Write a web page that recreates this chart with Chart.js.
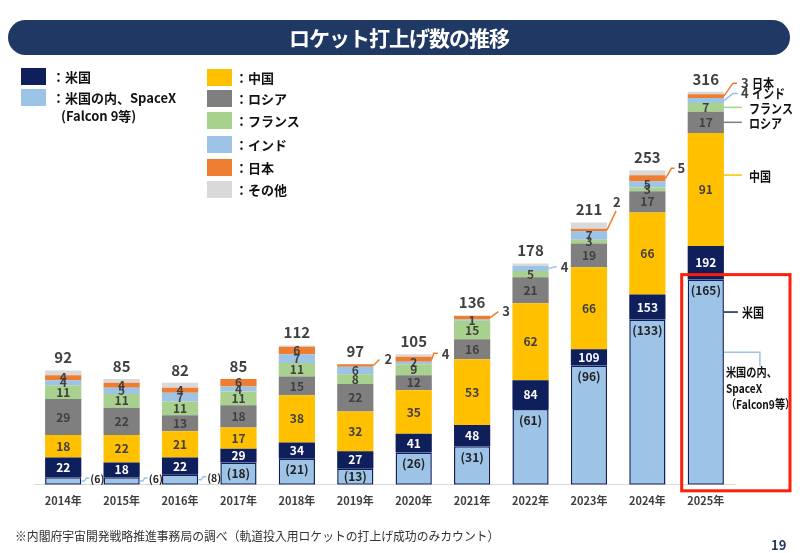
<!DOCTYPE html>
<html lang="ja">
<head>
<meta charset="utf-8">
<script src="https://cdn.jsdelivr.net/npm/chart.js@4.4.1/dist/chart.umd.min.js"></script>
<style>
  body { margin: 0; width: 800px; height: 553px; position: relative; background: #fff; overflow: hidden;
         font-family: 'Noto Sans CJK JP', 'Noto Sans', sans-serif; }
  #chart { position: absolute; left: 0; top: 0; }
  #banner { position: absolute; left: 8px; top: 20px; width: 782px; height: 35px; background: #203864;
            border-radius: 18px; color: #fff; font-weight: bold; font-size: 21px; line-height: 35px;
            text-align: center; letter-spacing: -1px; }
  .sw { position: absolute; width: 25px; height: 17px; }
  .lg { position: absolute; font-size: 13px; font-weight: bold; color: #111; line-height: 18px; white-space: nowrap; }
  #note { position: absolute; left: 15px; top: 527px; font-size: 12.5px; line-height: 18px; color: #333; white-space: nowrap;
          transform: scaleX(0.945); transform-origin: left center; }
  #page { position: absolute; left: 771px; top: 536px; font-size: 13px; line-height: 18px; font-weight: bold; color: #203864; }
</style>
</head>
<body>
<canvas id="chart" width="800" height="553"></canvas>
<div id="banner">ロケット打上げ数の推移</div>
<div id="legend"></div>
<div id="note">※内閣府宇宙開発戦略推進事務局の調べ（軌道投入用ロケットの打上げ成功のみカウント）</div>
<div id="page">19</div>
<script>
// data
const years = ['2014年', '2015年', '2016年', '2017年', '2018年', '2019年', '2020年', '2021年', '2022年', '2023年', '2024年', '2025年'];
const usTotal = [22, 18, 22, 29, 34, 27, 41, 48, 84, 109, 153, 192];
const spaceX  = [6, 6, 8, 18, 21, 13, 26, 31, 61, 96, 133, 165];
const china   = [18, 22, 21, 17, 38, 32, 35, 53, 62, 66, 66, 91];
const russia  = [29, 22, 13, 18, 15, 22, 12, 16, 21, 19, 17, 17];
const france  = [11, 11, 11, 11, 11, 8, 9, 15, 5, 3, 3, 7];
const india   = [4, 5, 7, 4, 7, 6, 2, 1, 4, 7, 5, 4];
const japan   = [4, 4, 4, 6, 6, 2, 4, 3, 0, 2, 5, 3];
const others  = [4, 3, 4, 0, 1, 0, 2, 0, 2, 5, 4, 2];
const totals  = [92, 85, 82, 85, 112, 97, 105, 136, 178, 211, 253, 316];

const NAVY = '#0E1F5B', LIGHT = '#9DC3E6', YELLOW = '#FFC000', GRAY = '#7F7F7F',
      GREEN = '#A9D18E', ORANGE = '#ED7D31', OTHER = '#D9D9D9';
const FONT = "'Noto Sans CJK JP', 'Noto Sans', sans-serif";

// legend (html)
const legend = document.getElementById('legend');
function addLegend(x, y, color, text, gap, sub) {
  legend.insertAdjacentHTML('beforeend',
    `<div class="sw" style="left:${x}px;top:${y}px;background:${color}"></div>` +
    `<div class="lg" style="left:${x + 25 + gap}px;top:${y - 0.5}px">${text}</div>`);
  if (sub) legend.insertAdjacentHTML('beforeend',
    `<div class="lg" style="left:${x + 40}px;top:${y + 18}px">${sub}</div>`);
}
addLegend(21, 68, NAVY, '：米国', 6);
addLegend(21, 89, LIGHT, '：米国の内、SpaceX', 6, '(Falcon 9等)');
[['：中国', YELLOW, 69], ['：ロシア', GRAY, 90], ['：フランス', GREEN, 112],
 ['：インド', LIGHT, 136], ['：日本', ORANGE, 159], ['：その他', OTHER, 181]]
  .forEach(([t, c, y]) => addLegend(207, y, c, t, 3));

const usRest = usTotal.map((v, i) => v - spaceX[i]);
const series = [spaceX, usRest, china, russia, france, india, japan, others];

function seg(chart, ds, i) {
  const p = chart.getDatasetMeta(ds).data[i].getProps(['x', 'y', 'base', 'width'], true);
  const top = Math.min(p.y, p.base), bottom = Math.max(p.y, p.base);
  return { x: p.x, top, bottom, h: bottom - top, left: p.x - p.width / 2, right: p.x + p.width / 2, mid: (top + bottom) / 2 };
}

// small segments labelled outside the bar with a leader line
const outside = [
  { ds: 0, i: 0, color: LIGHT, path: [[3, 0], [5, -3], [8, -3]], tx: 9, ty: -2, paren: true },
  { ds: 0, i: 1, color: LIGHT, path: [[3, 0], [5, -3], [8, -3]], tx: 9, ty: -2, paren: true },
  { ds: 0, i: 2, color: LIGHT, path: [[3, 0], [5, -3], [8, -3]], tx: 9, ty: -2, paren: true },
  { ds: 6, i: 5, color: ORANGE, path: [[6, -6]], tx: 11, ty: -6 },
  { ds: 6, i: 6, color: ORANGE, path: [[2, -6], [6, -6]], tx: 10, ty: -5 },
  { ds: 6, i: 7, color: ORANGE, path: [[8, -6]], tx: 12, ty: -6 },
  { ds: 5, i: 8, color: LIGHT, path: [[8, -2]], tx: 12, ty: -1 },
  { ds: 6, i: 9, color: ORANGE, path: [[9, -19]], tx: 6, ty: -28 },
  { ds: 6, i: 10, color: ORANGE, path: [[6, -10], [9, -10]], tx: 12, ty: -10 },
  { ds: 6, i: 11, color: ORANGE, path: [[9, -13], [13, -13]], tx: 17, ty: -13, name: '日本' },
  { ds: 5, i: 11, color: LIGHT, path: [[9, -7], [14, -7]], tx: 17, ty: -7, name: 'インド' }
];
// name tags on the 2025 bar
const tags = [
  { ds: 4, i: 11, color: GREEN, at: 0.5, path: [[18, 0]], tx: 25, ty: 1, lines: ['フランス'] },
  { ds: 3, i: 11, color: GRAY, at: 0.5, path: [[18, 0]], tx: 25, ty: 1, lines: ['ロシア'] },
  { ds: 2, i: 11, color: YELLOW, at: 0.373, path: [[18, 0]], tx: 25, ty: 1, lines: ['中国'] },
  { ds: 0, i: 11, color: NAVY, at: 0.158, path: [[14, 0]], tx: 18, ty: 0, lines: ['米国'] },
  { ds: 0, i: 11, color: LIGHT, at: 0.354, path: [[36, 0], [36, 14]], tx: 2, ty: 20, lh: 16, size: 12,
    lines: ['米国の内、', 'SpaceX', '（Falcon9等）'] }
];

function leader(ctx, x0, y0, path, color) {
  ctx.strokeStyle = color;
  ctx.lineWidth = 1.5;
  ctx.beginPath();
  ctx.moveTo(x0, y0);
  path.forEach(([dx, dy]) => ctx.lineTo(x0 + dx, y0 + dy));
  ctx.stroke();
}

// the slide font is narrow, so squeeze japanese text a bit
function narrowText(ctx, text, x, y, sx) {
  ctx.save();
  ctx.translate(x, y);
  ctx.scale(sx, 1);
  ctx.fillText(text, 0, 0);
  ctx.restore();
}

const labelPlugin = {
  id: 'segLabels',
  afterDraw(chart) {
    const ctx = chart.ctx;
    ctx.save();
    ctx.textBaseline = 'middle';
    const skip = new Set(outside.map(o => o.ds + ':' + o.i));

    // labels inside segments
    series.forEach((arr, ds) => {
      if (ds === 7) return;
      arr.forEach((v, i) => {
        if (skip.has(ds + ':' + i) || v <= 0) return;
        const s = seg(chart, ds, i);
        ctx.textAlign = 'center';
        ctx.font = 'bold 12px ' + FONT;
        if (ds === 0) {
          ctx.fillStyle = '#222';
          ctx.fillText('(' + v + ')', s.x, s.top + Math.min(s.h / 2, 11));
        } else if (ds === 1) {
          ctx.fillStyle = '#fff';
          ctx.fillText(usTotal[i], s.x, s.mid);
        } else {
          ctx.fillStyle = '#404040';
          ctx.fillText(v, s.x, s.mid);
        }
      });
    });

    // totals above bars
    totals.forEach((t, i) => {
      const s = seg(chart, 7, i);
      ctx.textAlign = 'center';
      ctx.font = 'bold 15px ' + FONT;
      ctx.fillStyle = '#404040';
      ctx.fillText(t, s.x, s.top - 13);
    });

    // outside labels
    outside.forEach(o => {
      const s = seg(chart, o.ds, o.i);
      const v = series[o.ds][o.i];
      leader(ctx, s.right, s.mid, o.path, o.color);
      ctx.textAlign = 'left';
      ctx.font = (o.paren ? 'bold 10.5px ' : 'bold 13px ') + FONT;
      ctx.fillStyle = o.paren ? '#222' : '#404040';
      ctx.fillText(o.paren ? '(' + v + ')' : v, s.right + o.tx, s.mid + o.ty);
      if (o.name) {
        ctx.fillStyle = '#111';
        narrowText(ctx, o.name, s.right + o.tx + 11, s.mid + o.ty, 0.85);
      }
    });

    tags.forEach(t => {
      const s = seg(chart, t.ds, t.i);
      const y = s.top + s.h * t.at;
      leader(ctx, s.right, y, t.path, t.color);
      ctx.textAlign = 'left';
      ctx.font = 'bold ' + (t.size || 13) + 'px ' + FONT;
      ctx.fillStyle = '#111';
      t.lines.forEach((line, k) => narrowText(ctx, line, s.right + t.tx, y + t.ty + k * (t.lh || 0), 0.85));
    });

    // red highlight box round the 2025 SpaceX bar
    const sx = seg(chart, 0, years.length - 1);
    ctx.strokeStyle = '#FF1E0A';
    ctx.lineWidth = 3;
    ctx.strokeRect(sx.left - 6, sx.top - 5, 790 - (sx.left - 6), sx.bottom + 6 - (sx.top - 5));
    ctx.restore();
  }
};

new Chart(document.getElementById('chart'), {
  type: 'bar',
  data: {
    labels: years,
    datasets: [
      { label: 'SpaceX', data: spaceX, backgroundColor: LIGHT, borderColor: NAVY, borderWidth: 1.5, borderSkipped: false },
      { label: '米国', data: usRest, backgroundColor: NAVY },
      { label: '中国', data: china, backgroundColor: YELLOW },
      { label: 'ロシア', data: russia, backgroundColor: GRAY },
      { label: 'フランス', data: france, backgroundColor: GREEN },
      { label: 'インド', data: india, backgroundColor: LIGHT },
      { label: '日本', data: japan, backgroundColor: ORANGE },
      { label: 'その他', data: others, backgroundColor: OTHER }
    ]
  },
  options: {
    responsive: false,
    animation: false,
    layout: { padding: { left: 34, right: 65, top: 62, bottom: 37 } },
    datasets: { bar: { barPercentage: 0.62, categoryPercentage: 1 } },
    plugins: { legend: { display: false }, tooltip: { enabled: false } },
    scales: {
      x: {
        stacked: true,
        grid: { display: false, drawTicks: false },
        border: { display: true, color: '#D9D9D9', width: 1 },
        ticks: { padding: 9, maxRotation: 0, color: '#404040', font: { family: FONT, size: 11, weight: 'bold' } }
      },
      y: { stacked: true, display: false, min: 0, max: 340 }
    }
  },
  plugins: [labelPlugin]
});
</script>
</body>
</html>
